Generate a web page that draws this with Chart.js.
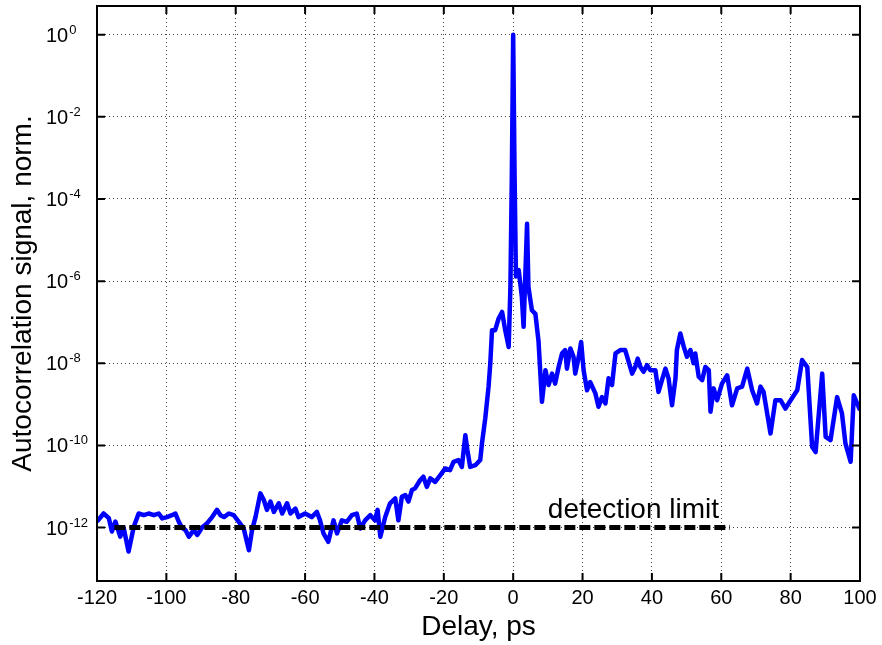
<!DOCTYPE html>
<html>
<head>
<meta charset="utf-8">
<script src="https://cdn.jsdelivr.net/npm/chart.js@4.4.0/dist/chart.umd.min.js"></script>
<style>
  html, body { margin: 0; padding: 0; background: #fff; }
  #wrap { width: 882px; height: 645px; }
</style>
</head>
<body>
<div id="wrap"><canvas id="myChart" width="882" height="645"></canvas></div>
<script>
// valeurs : délai (ps) et signal normalisé
const delays = [
  -120, -118.1, -116.6, -115.7, -114.7, -113.3, -112.3, -110.9, -109.4, -108.0,
  -106.5, -105.1, -103.6, -102.2, -101.2, -99.8, -98.4, -97.4, -96.4, -95.5,
  -94.5, -93.5, -92.1, -91.1, -89.7, -88.3, -86.8, -85.4, -84.4, -83.4,
  -82.0, -80.6, -79.1, -77.7, -76.2, -75.3, -74.3, -72.9, -71.9, -71.0,
  -70.0, -69.0, -67.6, -66.6, -65.2, -64.2, -62.8, -61.9, -60.0, -58.1,
  -56.6, -55.7, -54.7, -53.3, -51.8, -50.8, -49.4, -48.0, -46.5, -45.1,
  -44.1, -42.7, -41.2, -39.8, -39.1, -38.3, -36.9, -35.5, -34.0, -33.1,
  -32.1, -31.1, -30.2, -29.2, -28.3, -26.8, -25.9, -24.9, -23.9, -22.5,
  -21.0, -19.6, -18.2, -17.2, -15.8, -14.8, -13.8, -13.2, -12.4, -10.9,
  -9.5, -9.0, -8.05, -7.1, -6.6, -6.1, -5.2, -4.2, -3.2, -2.3,
  -1.3, -0.8, -0.4, 0, 0.4, 0.8, 1.6, 2.5, 3.0, 4.0,
  4.4, 5.4, 6.4, 7.3, 8.3, 9.3, 10.2, 11.2, 12.1, 13.1,
  14.1, 15.0, 15.5, 16.5, 17.4, 17.9, 18.9, 19.6, 20.3, 21.3,
  22.2, 23.7, 24.6, 25.6, 26.6, 27.5, 28.5, 29.5, 30.9, 32.3,
  33.3, 34.3, 35.2, 35.9, 36.7, 37.6, 38.6, 39.5, 41.0, 41.9,
  42.9, 43.9, 44.8, 45.8, 46.8, 47.2, 48.2, 49.2, 50.1, 51.1,
  52.0, 52.5, 53.5, 54.5, 55.4, 56.4, 56.9, 57.8, 58.8, 60.2,
  61.7, 63.1, 64.6, 66.0, 67.5, 68.9, 70.3, 71.3, 72.2, 74.2,
  75.6, 77.1, 78.5, 80.0, 81.9, 83.3, 84.8, 86.2, 87.2, 89.1,
  90.1, 91.5, 93.4, 94.8, 95.8, 97.3, 98.2, 100
];
const signal = [
  1.4e-12, 2.2e-12, 1.7e-12, 8.0e-13, 1.4e-12, 6.0e-13, 9.8e-13, 2.6e-13, 1.05e-12, 2.2e-12,
  2.0e-12, 2.2e-12, 2.0e-12, 2.2e-12, 1.67e-12, 1.8e-12, 2.0e-12, 2.2e-12, 1.38e-12, 1.0e-12,
  8.7e-13, 6.0e-13, 8.7e-13, 6.6e-13, 1.0e-12, 1.26e-12, 1.8e-12, 2.7e-12, 2.0e-12, 1.8e-12,
  2.2e-12, 2.0e-12, 1.38e-12, 9.5e-13, 2.8e-13, 8.7e-13, 1.8e-12, 6.8e-12, 4.7e-12, 2.7e-12,
  4.3e-12, 2.4e-12, 3.9e-12, 2.2e-12, 3.9e-12, 2.2e-12, 2.9e-12, 1.8e-12, 2.2e-12, 1.8e-12,
  2.4e-12, 1.5e-12, 7.2e-13, 4.5e-13, 1.5e-12, 7.2e-13, 1.5e-12, 1.38e-12, 2.0e-12, 2.2e-12,
  9.5e-13, 1.5e-12, 2.0e-12, 1.5e-12, 2.7e-12, 6.0e-13, 1.8e-12, 3.9e-12, 5.1e-12, 1.5e-12,
  5.6e-12, 6.2e-12, 4.3e-12, 8.2e-12, 9.0e-12, 1.44e-11, 1.73e-11, 9.8e-12, 1.58e-11, 1.3e-11,
  1.9e-11, 2.75e-11, 2.5e-11, 4.0e-11, 4.4e-11, 3.0e-11, 1.78e-10, 7.7e-11, 3.0e-11, 3.3e-11,
  4.4e-11, 1.12e-10, 4.6e-10, 2.7e-9, 1.0e-8, 6.4e-8, 6.4e-8, 1.23e-7, 1.78e-7, 6.4e-8,
  2.5e-8, 7.2e-7, 3.0e-4, 1, 4.0e-4, 1.3e-6, 1.85e-6, 4.1e-7, 7.7e-8, 2.5e-5,
  7.2e-7, 1.95e-7, 1.6e-7, 3.5e-8, 1.15e-9, 6.8e-9, 2.95e-9, 5.6e-9, 3.2e-9, 8.1e-9,
  1.74e-8, 2.1e-8, 7.4e-9, 2.3e-8, 1.44e-8, 5.6e-9, 1.44e-8, 3.3e-8, 6.8e-9, 2.2e-9,
  3.5e-9, 1.85e-9, 8.7e-10, 1.5e-9, 1.05e-9, 4.3e-9, 2.95e-9, 1.74e-8, 2.1e-8, 2.1e-8,
  1.08e-8, 5.6e-9, 8.1e-9, 1.3e-8, 8.1e-9, 6.2e-9, 9.0e-9, 6.8e-9, 6.8e-9, 2.0e-9,
  3.9e-9, 7.4e-9, 4.3e-9, 9.5e-10, 4.3e-9, 2.1e-8, 5.3e-8, 2.5e-8, 1.44e-8, 2.1e-8,
  1.0e-8, 1.74e-8, 4.7e-9, 3.9e-9, 8.1e-9, 6.8e-9, 6.6e-10, 2.45e-9, 1.26e-9, 3.2e-9,
  5.1e-9, 9.5e-10, 2.45e-9, 2.7e-9, 7.4e-9, 2.2e-9, 1.05e-9, 2.7e-9, 2.0e-9, 1.95e-10,
  1.26e-9, 1.26e-9, 7.9e-10, 1.26e-9, 2.2e-9, 1.2e-8, 8.1e-9, 9.3e-11, 6.9e-11, 5.6e-9,
  1.62e-10, 1.35e-10, 1.5e-9, 6.0e-10, 1.12e-10, 4.0e-11, 1.66e-9, 7.2e-10
];

// limite de détection
const detectionDelay = [-115, 62.5];
const detectionLevel = [1e-12, 1e-12];
const detectionText = "detection limit";
const detectionTextPos = [10, 1.7e-12];

// axes
const yTickValues = [1, 1e-2, 1e-4, 1e-6, 1e-8, 1e-10, 1e-12];
const xTitle = "Delay, ps";
const yTitle = "Autocorrelation signal, norm.";
const FONT = "'Liberation Sans', Arial, Helvetica, sans-serif";

// cadre, petits traits vers l'intérieur et étiquettes 10^n
const matlabFrame = {
  id: "matlabFrame",
  afterDatasetsDraw(chart) {
    const { ctx, chartArea: a, scales } = chart;
    const x = scales.x, y = scales.y;
    ctx.save();
    ctx.strokeStyle = "#000";
    ctx.lineWidth = 2;
    ctx.beginPath();
    x.ticks.forEach((t) => {
      const px = x.getPixelForValue(t.value);
      ctx.moveTo(px, a.bottom); ctx.lineTo(px, a.bottom - 8);
      ctx.moveTo(px, a.top); ctx.lineTo(px, a.top + 8);
    });
    y.ticks.forEach((t) => {
      const py = y.getPixelForValue(t.value);
      ctx.moveTo(a.left, py); ctx.lineTo(a.left + 8, py);
      ctx.moveTo(a.right, py); ctx.lineTo(a.right - 8, py);
    });
    ctx.stroke();
    ctx.strokeRect(a.left, a.top, a.right - a.left, a.bottom - a.top);

    ctx.fillStyle = "#000";
    ctx.textAlign = "left";
    ctx.textBaseline = "alphabetic";
    y.ticks.forEach((t) => {
      const py = y.getPixelForValue(t.value);
      const exp = Math.round(Math.log10(t.value));
      ctx.font = "20px " + FONT;
      ctx.fillText("10", 46, py + 7);
      const w = ctx.measureText("10").width;
      ctx.font = "13px " + FONT;
      ctx.fillText(String(exp), 46 + w + 1, py - 1);
    });

    ctx.font = "28px " + FONT;
    ctx.fillText(detectionText, x.getPixelForValue(detectionTextPos[0]), y.getPixelForValue(detectionTextPos[1]));
    ctx.restore();
  }
};

const ctx = document.querySelector("#myChart").getContext("2d");

new Chart(ctx, {
  type: "line",
  data: {
    datasets: [
      {
        label: "detection limit",
        data: detectionDelay.map((d, i) => ({ x: d, y: detectionLevel[i] })),
        borderColor: "#000",
        borderWidth: 5,
        borderDash: [11, 4],
        borderCapStyle: "butt",
        pointRadius: 0,
        fill: false
      },
      {
        label: "signal",
        data: delays.map((d, i) => ({ x: d, y: signal[i] })),
        borderColor: "#0000ff",
        borderWidth: 4.5,
        borderJoinStyle: "round",
        pointRadius: 0,
        tension: 0,
        fill: false
      }
    ]
  },
  options: {
    responsive: false,
    animation: false,
    devicePixelRatio: 1,
    layout: { padding: { top: 6, right: 22, left: 0, bottom: 0 } },
    plugins: { legend: { display: false }, tooltip: { enabled: false } },
    scales: {
      x: {
        type: "linear",
        min: -120,
        max: 100,
        afterFit(s) { s.height = 64; },
        ticks: { stepSize: 20, color: "#000", font: { family: FONT, size: 20 }, padding: 5, autoSkip: false, maxRotation: 0 },
        grid: { color: "rgba(0,0,0,0.75)", lineWidth: 1, drawTicks: false },
        border: { display: false, dash: [1, 3] },
        title: { display: true, text: xTitle, color: "#000", font: { family: FONT, size: 28 }, padding: { top: 0, bottom: 1 } }
      },
      y: {
        type: "logarithmic",
        min: 5e-14,
        max: 5,
        afterFit(s) { s.width = 97; },
        afterBuildTicks(s) { s.ticks = yTickValues.map((v) => ({ value: v })); },
        ticks: { display: false },
        grid: { color: "rgba(0,0,0,0.75)", lineWidth: 1, drawTicks: false },
        border: { display: false, dash: [1, 3] },
        title: { display: true, text: yTitle, color: "#000", font: { family: FONT, size: 28 }, padding: { top: 6, bottom: 0 } }
      }
    }
  },
  plugins: [matlabFrame]
});
</script>
</body>
</html>
